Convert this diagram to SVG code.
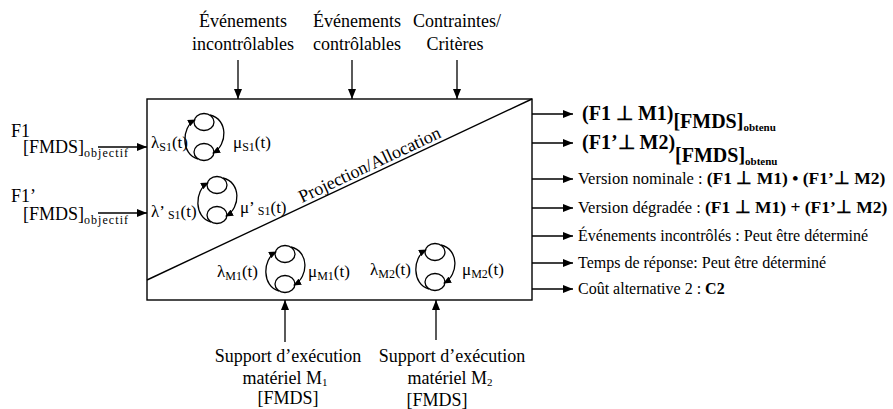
<svg xmlns="http://www.w3.org/2000/svg" xmlns:xlink="http://www.w3.org/1999/xlink" width="893" height="409" viewBox="0 0 893 409">
<style>
text{font-family:"Liberation Serif","Times New Roman",serif;fill:#000}
.t18{font-size:18px}
.t17{font-size:17px}
.mid{text-anchor:middle}
.b{font-weight:bold}
.r{font-size:16px}
.v{font-size:16.5px}
.big{font-size:20px;font-weight:bold}
.ln{stroke:#000;stroke-width:1.4;fill:none}
.conn{stroke:#000;stroke-width:1.3;fill:none;marker-end:url(#ah)}
.arc{stroke:#000;stroke-width:1.3;fill:none;marker-end:url(#ahs)}
.cir{stroke:#000;stroke-width:1.3;fill:#fff}
</style>
<defs>
<marker id="ah" viewBox="0 0 10 8" refX="10" refY="4" markerWidth="10" markerHeight="8" orient="auto" markerUnits="userSpaceOnUse"><path d="M0,0 L10,4 L0,8 z" fill="#000"/></marker>
<marker id="ahs" viewBox="0 0 8 7" refX="7" refY="3.5" markerWidth="8" markerHeight="7" orient="auto" markerUnits="userSpaceOnUse"><path d="M0,0 L8,3.5 L0,7 z" fill="#000"/></marker>
<g id="loop">
<ellipse class="cir" cx="0" cy="-15" rx="10" ry="8.5"/>
<ellipse class="cir" cx="0" cy="15" rx="10" ry="8.5"/>
<path class="arc" d="M-6,22 C-23,18 -23,-10 -9,-17"/>
<path class="arc" d="M6,-22 C24,-18 24,8 9,16"/>
</g>
</defs>
<rect width="893" height="409" fill="#fff"/>

<g id="box">
<rect class="ln" x="147" y="99" width="385" height="201"/>
<line class="ln" x1="532" y1="99" x2="147" y2="280"/>
<text class="t18" transform="translate(302,203) rotate(-25.2)">Projection/Allocation</text>
</g>

<g id="loopS1">
<use xlink:href="#loop" x="204" y="137"/>
<text class="t17" x="151" y="148">λ<tspan font-size="12" dy="3">S1</tspan><tspan dy="-3">(t)</tspan></text>
<text class="t17" x="233" y="148">μ<tspan font-size="12" dy="3">S1</tspan><tspan dy="-3">(t)</tspan></text>
</g>
<g id="loopS1p">
<use xlink:href="#loop" x="217" y="200"/>
<text class="t17" x="151" y="217">λ’<tspan font-size="12" dy="2"> S1</tspan><tspan dy="-2">(t)</tspan></text>
<text class="t17" x="240" y="213">μ’<tspan font-size="12" dy="2"> S1</tspan><tspan dy="-2">(t)</tspan></text>
</g>
<g id="loopM1">
<use xlink:href="#loop" x="285" y="269"/>
<text class="t17" x="217" y="277">λ<tspan font-size="12" dy="3">M1</tspan><tspan dy="-3">(t)</tspan></text>
<text class="t17" x="308" y="277">μ<tspan font-size="12" dy="3">M1</tspan><tspan dy="-3">(t)</tspan></text>
</g>
<g id="loopM2">
<use xlink:href="#loop" x="435" y="267"/>
<text class="t17" x="370" y="275">λ<tspan font-size="12" dy="3">M2</tspan><tspan dy="-3">(t)</tspan></text>
<text class="t17" x="462" y="275">μ<tspan font-size="12" dy="3">M2</tspan><tspan dy="-3">(t)</tspan></text>
</g>

<g id="in-evt-incontrolables">
<text class="t18 mid" x="243" y="27">Événements</text>
<text class="t18 mid" x="243" y="50">incontrôlables</text>
</g>
<g id="in-evt-controlables">
<text class="t18 mid" x="357" y="27">Événements</text>
<text class="t18 mid" x="357" y="50">contrôlables</text>
</g>
<g id="in-contraintes">
<text class="t18 mid" x="457" y="27">Contraintes/</text>
<text class="t18 mid" x="455" y="50">Critères</text>
</g>

<g id="in-F1">
<text class="t18" x="11" y="137">F1</text>
<text class="t18" x="23" y="153">[FMDS]<tspan font-size="12" dy="4" textLength="44">objectif</tspan></text>
</g>
<g id="in-F1p">
<text class="t18" x="11" y="202">F1’</text>
<text class="t18" x="23" y="220">[FMDS]<tspan font-size="12" dy="4" textLength="44">objectif</tspan></text>
</g>

<g id="support-M1">
<text class="t18 mid" x="288" y="362">Support d’exécution</text>
<text class="t18 mid" x="285" y="384">matériel M<tspan font-size="11" dy="2">1</tspan></text>
<text class="t18 mid" x="288" y="404">[FMDS]</text>
</g>
<g id="support-M2">
<text class="t18 mid" x="452" y="362">Support d’exécution</text>
<text class="t18 mid" x="450" y="384">matériel M<tspan font-size="11" dy="2">2</tspan></text>
<text class="t18 mid" x="437" y="406">[FMDS]</text>
</g>

<g id="out-1">
<text class="big" x="582" y="120">(F1 ⊥ M1)<tspan dy="8">[FMDS]</tspan><tspan font-size="11" dy="3">obtenu</tspan></text>
</g>
<g id="out-2">
<text class="big" x="582" y="149">(F1’⊥ M2)<tspan dy="13">[FMDS]</tspan><tspan font-size="11" dy="3">obtenu</tspan></text>
</g>
<g id="out-3">
<text class="v" x="578" y="184">Version nominale : <tspan class="b" font-size="17.5">(F1 ⊥ M1) • (F1’⊥ M2)</tspan></text>
</g>
<g id="out-4">
<text class="v" x="578" y="213">Version dégradée : <tspan class="b" font-size="17.5">(F1 ⊥ M1) + (F1’⊥ M2)</tspan></text>
</g>
<g id="out-5">
<text class="r" x="578" y="241">Événements incontrôlés : Peut être déterminé</text>
</g>
<g id="out-6">
<text class="r" x="578" y="268">Temps de réponse: Peut être déterminé</text>
</g>
<g id="out-7">
<text class="r" x="578" y="294">Coût alternative 2 : <tspan class="b">C2</tspan></text>
</g>

<g id="connectors">
<line class="conn" x1="238" y1="60" x2="238" y2="99"/>
<line class="conn" x1="352" y1="60" x2="352" y2="99"/>
<line class="conn" x1="457" y1="60" x2="457" y2="99"/>
<line class="conn" x1="98" y1="147" x2="147" y2="147"/>
<line class="conn" x1="98" y1="213" x2="147" y2="213"/>
<line class="conn" x1="285" y1="342" x2="285" y2="300"/>
<line class="conn" x1="436" y1="340" x2="436" y2="300"/>
<line class="conn" x1="532" y1="114" x2="573" y2="114"/>
<line class="conn" x1="532" y1="143" x2="573" y2="143"/>
<line class="conn" x1="532" y1="179" x2="573" y2="179"/>
<line class="conn" x1="532" y1="208" x2="573" y2="208"/>
<line class="conn" x1="532" y1="236" x2="573" y2="236"/>
<line class="conn" x1="532" y1="263" x2="573" y2="263"/>
<line class="conn" x1="532" y1="289" x2="573" y2="289"/>
</g>
</svg>
